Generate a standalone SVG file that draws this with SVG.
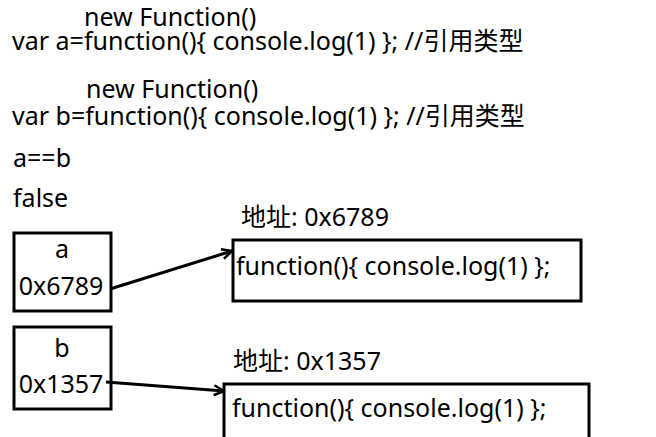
<svg xmlns="http://www.w3.org/2000/svg" width="656" height="437" viewBox="0 0 656 437">
<style>
text{font-family:"Noto Sans","Noto Sans CJK SC",sans-serif;font-size:25px;fill:#000}
.box{fill:#fff;stroke:#000;stroke-width:3}
.conn{fill:none;stroke:#000;stroke-width:3}
</style>
<defs>
<marker id="arr" viewBox="0 0 12 12" refX="11" refY="6" markerWidth="12" markerHeight="12" markerUnits="userSpaceOnUse" orient="auto">
<path d="M1,1 L11,6 L1,11" fill="none" stroke="#000" stroke-width="2.5"/>
</marker>
</defs>
<rect width="656" height="437" fill="#fff"/>
<g id="code">
<text x="84" y="26">new Function()</text>
<text x="12" y="50">var a=function(){ console.log(1) }; //引用类型</text>
<text x="86" y="98">new Function()</text>
<text x="12" y="125">var b=function(){ console.log(1) }; //引用类型</text>
<text x="13" y="167">a==b</text>
<text x="13" y="207">false</text>
</g>
<g id="node-a">
<rect class="box" x="14" y="233" width="97" height="78"/>
<text x="62" y="258" text-anchor="middle">a</text>
<text x="61" y="295" text-anchor="middle">0x6789</text>
</g>
<g id="node-b">
<rect class="box" x="14" y="327" width="97" height="82"/>
<text x="62" y="357" text-anchor="middle">b</text>
<text x="61" y="393" text-anchor="middle">0x1357</text>
</g>
<g id="heap-1">
<text x="241" y="226">地址: 0x6789</text>
<rect class="box" x="233" y="240" width="348" height="61"/>
<text x="236" y="275">function(){ console.log(1) };</text>
</g>
<g id="heap-2">
<text x="233" y="370">地址: 0x1357</text>
<rect class="box" x="224" y="384" width="365" height="60"/>
<text x="232" y="417">function(){ console.log(1) };</text>
</g>
<g id="connectors">
<path class="conn" d="M110,289 L232,251" marker-end="url(#arr)"/>
<path class="conn" d="M106,382 L224,391" marker-end="url(#arr)"/>
</g>
</svg>
